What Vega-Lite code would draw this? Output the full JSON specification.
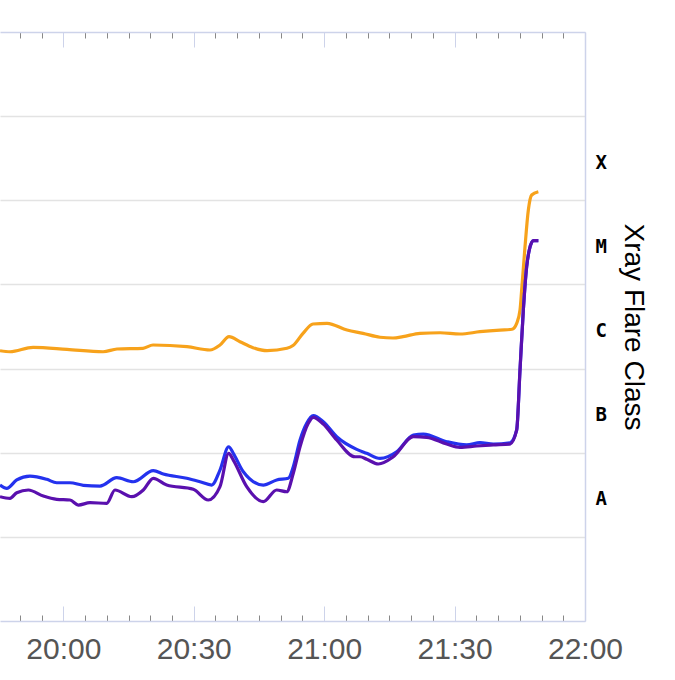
{
  "$schema": "https://vega.github.io/schema/vega-lite/v6.json",
  "width": 585,
  "height": 589,
  "autosize": "none",
  "padding": {"left": 0, "top": 32, "right": 90, "bottom": 59},
  "background": "white",
  "config": {"view": {"stroke": null}},
  "data": {
    "values": [
      {"time": "2024-01-01T19:45:26", "flux": 1.63e-6, "series": "Long"},
      {"time": "2024-01-01T19:47:44", "flux": 1.585e-6, "series": "Long"},
      {"time": "2024-01-01T19:53:02", "flux": 1.79e-6, "series": "Long"},
      {"time": "2024-01-01T20:00:51", "flux": 1.694e-6, "series": "Long"},
      {"time": "2024-01-01T20:09:08", "flux": 1.585e-6, "series": "Long"},
      {"time": "2024-01-01T20:12:21", "flux": 1.708e-6, "series": "Long"},
      {"time": "2024-01-01T20:18:20", "flux": 1.742e-6, "series": "Long"},
      {"time": "2024-01-01T20:20:38", "flux": 1.905e-6, "series": "Long"},
      {"time": "2024-01-01T20:28:27", "flux": 1.82e-6, "series": "Long"},
      {"time": "2024-01-01T20:33:44", "flux": 1.663e-6, "series": "Long"},
      {"time": "2024-01-01T20:36:02", "flux": 1.905e-6, "series": "Long"},
      {"time": "2024-01-01T20:38:07", "flux": 2.393e-6, "series": "Long"},
      {"time": "2024-01-01T20:40:38", "flux": 2.084e-6, "series": "Long"},
      {"time": "2024-01-01T20:43:38", "flux": 1.77e-6, "series": "Long"},
      {"time": "2024-01-01T20:46:51", "flux": 1.63e-6, "series": "Long"},
      {"time": "2024-01-01T20:51:27", "flux": 1.742e-6, "series": "Long"},
      {"time": "2024-01-01T20:52:50", "flux": 1.879e-6, "series": "Long"},
      {"time": "2024-01-01T20:55:08", "flux": 2.624e-6, "series": "Long"},
      {"time": "2024-01-01T20:57:26", "flux": 3.388e-6, "series": "Long"},
      {"time": "2024-01-01T21:00:40", "flux": 3.45e-6, "series": "Long"},
      {"time": "2024-01-01T21:05:16", "flux": 2.87e-6, "series": "Long"},
      {"time": "2024-01-01T21:08:56", "flux": 2.624e-6, "series": "Long"},
      {"time": "2024-01-01T21:12:51", "flux": 2.355e-6, "series": "Long"},
      {"time": "2024-01-01T21:15:50", "flux": 2.307e-6, "series": "Long"},
      {"time": "2024-01-01T21:18:08", "flux": 2.393e-6, "series": "Long"},
      {"time": "2024-01-01T21:22:03", "flux": 2.624e-6, "series": "Long"},
      {"time": "2024-01-01T21:26:39", "flux": 2.667e-6, "series": "Long"},
      {"time": "2024-01-01T21:31:15", "flux": 2.576e-6, "series": "Long"},
      {"time": "2024-01-01T21:35:51", "flux": 2.742e-6, "series": "Long"},
      {"time": "2024-01-01T21:40:27", "flux": 2.87e-6, "series": "Long"},
      {"time": "2024-01-01T21:43:13", "flux": 2.931e-6, "series": "Long"},
      {"time": "2024-01-01T21:44:17", "flux": 3.45e-6, "series": "Long"},
      {"time": "2024-01-01T21:45:03", "flux": 4.966e-6, "series": "Long"},
      {"time": "2024-01-01T21:45:26", "flux": 8.59e-6, "series": "Long"},
      {"time": "2024-01-01T21:46:12", "flux": 2.805e-5, "series": "Long"},
      {"time": "2024-01-01T21:46:58", "flux": 7.665e-5, "series": "Long"},
      {"time": "2024-01-01T21:47:44", "flux": 1.156e-4, "series": "Long"},
      {"time": "2024-01-01T21:49:16", "flux": 1.265e-4, "series": "Long"},

      {"time": "2024-01-01T19:45:26", "flux": 4.13e-8, "series": "Short A"},
      {"time": "2024-01-01T19:46:59", "flux": 3.776e-8, "series": "Short A"},
      {"time": "2024-01-01T19:49:17", "flux": 4.742e-8, "series": "Short A"},
      {"time": "2024-01-01T19:52:20", "flux": 5.28e-8, "series": "Short A"},
      {"time": "2024-01-01T19:56:11", "flux": 4.83e-8, "series": "Short A"},
      {"time": "2024-01-01T19:58:29", "flux": 4.395e-8, "series": "Short A"},
      {"time": "2024-01-01T20:01:32", "flux": 4.395e-8, "series": "Short A"},
      {"time": "2024-01-01T20:04:36", "flux": 4.10e-8, "series": "Short A"},
      {"time": "2024-01-01T20:08:26", "flux": 4.018e-8, "series": "Short A"},
      {"time": "2024-01-01T20:12:17", "flux": 5.047e-8, "series": "Short A"},
      {"time": "2024-01-01T20:16:06", "flux": 4.519e-8, "series": "Short A"},
      {"time": "2024-01-01T20:20:42", "flux": 6.11e-8, "series": "Short A"},
      {"time": "2024-01-01T20:23:00", "flux": 5.58e-8, "series": "Short A"},
      {"time": "2024-01-01T20:28:23", "flux": 4.966e-8, "series": "Short A"},
      {"time": "2024-01-01T20:31:26", "flux": 4.519e-8, "series": "Short A"},
      {"time": "2024-01-01T20:34:08", "flux": 4.13e-8, "series": "Short A"},
      {"time": "2024-01-01T20:36:02", "flux": 6.22e-8, "series": "Short A"},
      {"time": "2024-01-01T20:38:02", "flux": 1.178e-7, "series": "Short A"},
      {"time": "2024-01-01T20:39:06", "flux": 9.84e-8, "series": "Short A"},
      {"time": "2024-01-01T20:41:24", "flux": 5.94e-8, "series": "Short A"},
      {"time": "2024-01-01T20:46:00", "flux": 4.13e-8, "series": "Short A"},
      {"time": "2024-01-01T20:49:05", "flux": 4.742e-8, "series": "Short A"},
      {"time": "2024-01-01T20:51:45", "flux": 4.966e-8, "series": "Short A"},
      {"time": "2024-01-01T20:52:54", "flux": 6.82e-8, "series": "Short A"},
      {"time": "2024-01-01T20:54:27", "flux": 1.416e-7, "series": "Short A"},
      {"time": "2024-01-01T20:55:59", "flux": 2.234e-7, "series": "Short A"},
      {"time": "2024-01-01T20:57:30", "flux": 2.754e-7, "series": "Short A"},
      {"time": "2024-01-01T20:59:48", "flux": 2.333e-7, "series": "Short A"},
      {"time": "2024-01-01T21:02:53", "flux": 1.549e-7, "series": "Short A"},
      {"time": "2024-01-01T21:07:29", "flux": 1.097e-7, "series": "Short A"},
      {"time": "2024-01-01T21:09:47", "flux": 9.84e-8, "series": "Short A"},
      {"time": "2024-01-01T21:12:51", "flux": 8.57e-8, "series": "Short A"},
      {"time": "2024-01-01T21:16:41", "flux": 1.028e-7, "series": "Short A"},
      {"time": "2024-01-01T21:20:31", "flux": 1.622e-7, "series": "Short A"},
      {"time": "2024-01-01T21:22:49", "flux": 1.667e-7, "series": "Short A"},
      {"time": "2024-01-01T21:28:11", "flux": 1.352e-7, "series": "Short A"},
      {"time": "2024-01-01T21:32:47", "flux": 1.236e-7, "series": "Short A"},
      {"time": "2024-01-01T21:35:51", "flux": 1.315e-7, "series": "Short A"},
      {"time": "2024-01-01T21:38:55", "flux": 1.268e-7, "series": "Short A"},
      {"time": "2024-01-01T21:42:45", "flux": 1.315e-7, "series": "Short A"},
      {"time": "2024-01-01T21:44:17", "flux": 1.862e-7, "series": "Short A"},
      {"time": "2024-01-01T21:45:03", "flux": 9.62e-7, "series": "Short A"},
      {"time": "2024-01-01T21:45:49", "flux": 4.966e-6, "series": "Short A"},
      {"time": "2024-01-01T21:46:35", "flux": 1.626e-5, "series": "Short A"},
      {"time": "2024-01-01T21:47:11", "flux": 2.564e-5, "series": "Short A"},
      {"time": "2024-01-01T21:48:07", "flux": 3.311e-5, "series": "Short A"},
      {"time": "2024-01-01T21:49:16", "flux": 3.311e-5, "series": "Short A"},

      {"time": "2024-01-01T19:45:26", "flux": 3.0e-8, "series": "Short B"},
      {"time": "2024-01-01T19:47:44", "flux": 2.87e-8, "series": "Short B"},
      {"time": "2024-01-01T19:49:17", "flux": 3.35e-8, "series": "Short B"},
      {"time": "2024-01-01T19:51:57", "flux": 3.606e-8, "series": "Short B"},
      {"time": "2024-01-01T19:55:24", "flux": 3.055e-8, "series": "Short B"},
      {"time": "2024-01-01T19:58:29", "flux": 2.793e-8, "series": "Short B"},
      {"time": "2024-01-01T20:01:32", "flux": 2.742e-8, "series": "Short B"},
      {"time": "2024-01-01T20:03:27", "flux": 2.388e-8, "series": "Short B"},
      {"time": "2024-01-01T20:06:08", "flux": 2.547e-8, "series": "Short B"},
      {"time": "2024-01-01T20:09:59", "flux": 2.506e-8, "series": "Short B"},
      {"time": "2024-01-01T20:11:53", "flux": 3.606e-8, "series": "Short B"},
      {"time": "2024-01-01T20:15:44", "flux": 3.0e-8, "series": "Short B"},
      {"time": "2024-01-01T20:18:24", "flux": 3.606e-8, "series": "Short B"},
      {"time": "2024-01-01T20:20:42", "flux": 4.966e-8, "series": "Short B"},
      {"time": "2024-01-01T20:23:47", "flux": 4.13e-8, "series": "Short B"},
      {"time": "2024-01-01T20:29:54", "flux": 3.673e-8, "series": "Short B"},
      {"time": "2024-01-01T20:33:21", "flux": 2.742e-8, "series": "Short B"},
      {"time": "2024-01-01T20:36:02", "flux": 3.945e-8, "series": "Short B"},
      {"time": "2024-01-01T20:38:02", "flux": 9.84e-8, "series": "Short B"},
      {"time": "2024-01-01T20:39:06", "flux": 8.18e-8, "series": "Short B"},
      {"time": "2024-01-01T20:42:11", "flux": 3.945e-8, "series": "Short B"},
      {"time": "2024-01-01T20:46:00", "flux": 2.618e-8, "series": "Short B"},
      {"time": "2024-01-01T20:49:05", "flux": 3.606e-8, "series": "Short B"},
      {"time": "2024-01-01T20:51:23", "flux": 3.436e-8, "series": "Short B"},
      {"time": "2024-01-01T20:52:54", "flux": 5.69e-8, "series": "Short B"},
      {"time": "2024-01-01T20:54:27", "flux": 1.178e-7, "series": "Short B"},
      {"time": "2024-01-01T20:56:21", "flux": 2.234e-7, "series": "Short B"},
      {"time": "2024-01-01T20:57:30", "flux": 2.636e-7, "series": "Short B"},
      {"time": "2024-01-01T20:59:48", "flux": 2.193e-7, "series": "Short B"},
      {"time": "2024-01-01T21:02:53", "flux": 1.416e-7, "series": "Short B"},
      {"time": "2024-01-01T21:07:06", "flux": 8.95e-8, "series": "Short B"},
      {"time": "2024-01-01T21:08:15", "flux": 8.95e-8, "series": "Short B"},
      {"time": "2024-01-01T21:09:47", "flux": 8.36e-8, "series": "Short B"},
      {"time": "2024-01-01T21:12:28", "flux": 7.345e-8, "series": "Short B"},
      {"time": "2024-01-01T21:15:55", "flux": 8.95e-8, "series": "Short B"},
      {"time": "2024-01-01T21:20:31", "flux": 1.549e-7, "series": "Short B"},
      {"time": "2024-01-01T21:23:35", "flux": 1.524e-7, "series": "Short B"},
      {"time": "2024-01-01T21:28:11", "flux": 1.268e-7, "series": "Short B"},
      {"time": "2024-01-01T21:31:15", "flux": 1.159e-7, "series": "Short B"},
      {"time": "2024-01-01T21:35:05", "flux": 1.202e-7, "series": "Short B"},
      {"time": "2024-01-01T21:38:55", "flux": 1.236e-7, "series": "Short B"},
      {"time": "2024-01-01T21:42:45", "flux": 1.268e-7, "series": "Short B"},
      {"time": "2024-01-01T21:44:17", "flux": 1.862e-7, "series": "Short B"},
      {"time": "2024-01-01T21:45:03", "flux": 9.62e-7, "series": "Short B"},
      {"time": "2024-01-01T21:45:49", "flux": 4.966e-6, "series": "Short B"},
      {"time": "2024-01-01T21:46:35", "flux": 1.626e-5, "series": "Short B"},
      {"time": "2024-01-01T21:47:11", "flux": 2.564e-5, "series": "Short B"},
      {"time": "2024-01-01T21:48:07", "flux": 3.311e-5, "series": "Short B"},
      {"time": "2024-01-01T21:49:16", "flux": 3.311e-5, "series": "Short B"}
    ]
  },
  "resolve": {"axis": {"x": "independent", "y": "independent"}},
  "layer": [
    {
      "mark": {"type": "line", "strokeWidth": 3.2, "interpolate": "monotone", "clip": true},
      "encoding": {
        "x": {
          "field": "time",
          "type": "temporal",
          "scale": {
            "domain": [
              {"year": 2024, "month": 1, "date": 1, "hours": 19, "minutes": 45, "seconds": 26},
              {"year": 2024, "month": 1, "date": 1, "hours": 22, "minutes": 0, "seconds": 0}
            ],
            "nice": false
          },
          "axis": {
            "orient": "bottom",
            "title": null,
            "grid": false,
            "values": [
              {"year": 2024, "month": 1, "date": 1, "hours": 19, "minutes": 50},
              {"year": 2024, "month": 1, "date": 1, "hours": 19, "minutes": 55},
              {"year": 2024, "month": 1, "date": 1, "hours": 20, "minutes": 0},
              {"year": 2024, "month": 1, "date": 1, "hours": 20, "minutes": 5},
              {"year": 2024, "month": 1, "date": 1, "hours": 20, "minutes": 10},
              {"year": 2024, "month": 1, "date": 1, "hours": 20, "minutes": 15},
              {"year": 2024, "month": 1, "date": 1, "hours": 20, "minutes": 20},
              {"year": 2024, "month": 1, "date": 1, "hours": 20, "minutes": 25},
              {"year": 2024, "month": 1, "date": 1, "hours": 20, "minutes": 30},
              {"year": 2024, "month": 1, "date": 1, "hours": 20, "minutes": 35},
              {"year": 2024, "month": 1, "date": 1, "hours": 20, "minutes": 40},
              {"year": 2024, "month": 1, "date": 1, "hours": 20, "minutes": 45},
              {"year": 2024, "month": 1, "date": 1, "hours": 20, "minutes": 50},
              {"year": 2024, "month": 1, "date": 1, "hours": 20, "minutes": 55},
              {"year": 2024, "month": 1, "date": 1, "hours": 21, "minutes": 0},
              {"year": 2024, "month": 1, "date": 1, "hours": 21, "minutes": 5},
              {"year": 2024, "month": 1, "date": 1, "hours": 21, "minutes": 10},
              {"year": 2024, "month": 1, "date": 1, "hours": 21, "minutes": 15},
              {"year": 2024, "month": 1, "date": 1, "hours": 21, "minutes": 20},
              {"year": 2024, "month": 1, "date": 1, "hours": 21, "minutes": 25},
              {"year": 2024, "month": 1, "date": 1, "hours": 21, "minutes": 30},
              {"year": 2024, "month": 1, "date": 1, "hours": 21, "minutes": 35},
              {"year": 2024, "month": 1, "date": 1, "hours": 21, "minutes": 40},
              {"year": 2024, "month": 1, "date": 1, "hours": 21, "minutes": 45},
              {"year": 2024, "month": 1, "date": 1, "hours": 21, "minutes": 50},
              {"year": 2024, "month": 1, "date": 1, "hours": 21, "minutes": 55},
              {"year": 2024, "month": 1, "date": 1, "hours": 22, "minutes": 0}
            ],
            "format": "%H:%M",
            "labelExpr": "minutes(datum.value) % 30 === 0 ? datum.label : ''",
            "labelFont": "Liberation Sans",
            "labelFontSize": 30,
            "labelColor": "#555555",
            "labelPadding": 28,
            "labelOverlap": false,
            "labelFlush": false,
            "domainColor": "#cdd3ea",
            "domainWidth": 1.5,
            "tickSize": {"condition": {"test": "minutes(datum.value) % 30 === 0", "value": -15}, "value": -6},
            "tickColor": {"condition": {"test": "minutes(datum.value) % 30 === 0", "value": "#cdd3ea"}, "value": "#888888"},
            "tickWidth": 1
          }
        },
        "y": {
          "field": "flux",
          "type": "quantitative",
          "scale": {"type": "log", "domain": [1e-9, 1e-2], "nice": false},
          "axis": {
            "orient": "left",
            "title": null,
            "values": [1e-8, 1e-7, 1e-6, 1e-5, 1e-4, 1e-3],
            "labels": false,
            "ticks": false,
            "domain": false,
            "grid": true,
            "gridColor": "#e3e3e3",
            "gridWidth": 1.5
          }
        },
        "color": {
          "field": "series",
          "type": "nominal",
          "scale": {"domain": ["Long", "Short A", "Short B"], "range": ["#f7a21b", "#2432ee", "#5a10ae"]},
          "legend": null
        }
      }
    },
    {
      "mark": {"type": "point", "opacity": 0},
      "encoding": {
        "x": {
          "field": "time",
          "type": "temporal",
          "axis": {
            "orient": "top",
            "title": null,
            "grid": false,
            "labels": false,
            "values": [
              {"year": 2024, "month": 1, "date": 1, "hours": 19, "minutes": 50},
              {"year": 2024, "month": 1, "date": 1, "hours": 19, "minutes": 55},
              {"year": 2024, "month": 1, "date": 1, "hours": 20, "minutes": 0},
              {"year": 2024, "month": 1, "date": 1, "hours": 20, "minutes": 5},
              {"year": 2024, "month": 1, "date": 1, "hours": 20, "minutes": 10},
              {"year": 2024, "month": 1, "date": 1, "hours": 20, "minutes": 15},
              {"year": 2024, "month": 1, "date": 1, "hours": 20, "minutes": 20},
              {"year": 2024, "month": 1, "date": 1, "hours": 20, "minutes": 25},
              {"year": 2024, "month": 1, "date": 1, "hours": 20, "minutes": 30},
              {"year": 2024, "month": 1, "date": 1, "hours": 20, "minutes": 35},
              {"year": 2024, "month": 1, "date": 1, "hours": 20, "minutes": 40},
              {"year": 2024, "month": 1, "date": 1, "hours": 20, "minutes": 45},
              {"year": 2024, "month": 1, "date": 1, "hours": 20, "minutes": 50},
              {"year": 2024, "month": 1, "date": 1, "hours": 20, "minutes": 55},
              {"year": 2024, "month": 1, "date": 1, "hours": 21, "minutes": 0},
              {"year": 2024, "month": 1, "date": 1, "hours": 21, "minutes": 5},
              {"year": 2024, "month": 1, "date": 1, "hours": 21, "minutes": 10},
              {"year": 2024, "month": 1, "date": 1, "hours": 21, "minutes": 15},
              {"year": 2024, "month": 1, "date": 1, "hours": 21, "minutes": 20},
              {"year": 2024, "month": 1, "date": 1, "hours": 21, "minutes": 25},
              {"year": 2024, "month": 1, "date": 1, "hours": 21, "minutes": 30},
              {"year": 2024, "month": 1, "date": 1, "hours": 21, "minutes": 35},
              {"year": 2024, "month": 1, "date": 1, "hours": 21, "minutes": 40},
              {"year": 2024, "month": 1, "date": 1, "hours": 21, "minutes": 45},
              {"year": 2024, "month": 1, "date": 1, "hours": 21, "minutes": 50},
              {"year": 2024, "month": 1, "date": 1, "hours": 21, "minutes": 55},
              {"year": 2024, "month": 1, "date": 1, "hours": 22, "minutes": 0}
            ],
            "domainColor": "#cdd3ea",
            "domainWidth": 1.5,
            "tickSize": {"condition": {"test": "minutes(datum.value) % 30 === 0", "value": -15}, "value": -6},
            "tickColor": {"condition": {"test": "minutes(datum.value) % 30 === 0", "value": "#cdd3ea"}, "value": "#888888"},
            "tickWidth": 1
          }
        },
        "y": {
          "field": "flux",
          "type": "quantitative",
          "axis": {
            "orient": "right",
            "title": "Xray Flare Class",
            "titleFont": "Liberation Sans",
            "titleFontSize": 28,
            "titleFontWeight": "normal",
            "titleColor": "#000000",
            "titlePadding": 12,
            "values": [3.1623e-8, 3.1623e-7, 3.1623e-6, 3.1623e-5, 3.1623e-4],
            "labelExpr": "datum.value < 1e-7 ? 'A' : datum.value < 1e-6 ? 'B' : datum.value < 1e-5 ? 'C' : datum.value < 1e-4 ? 'M' : 'X'",
            "labelFont": "DejaVu Sans Mono",
            "labelFontWeight": "bold",
            "labelFontSize": 19,
            "labelColor": "#000000",
            "labelPadding": 10,
            "labelOffset": 4,
            "ticks": false,
            "grid": false,
            "domainColor": "#cdd3ea",
            "domainWidth": 1.5
          }
        }
      }
    }
  ]
}
